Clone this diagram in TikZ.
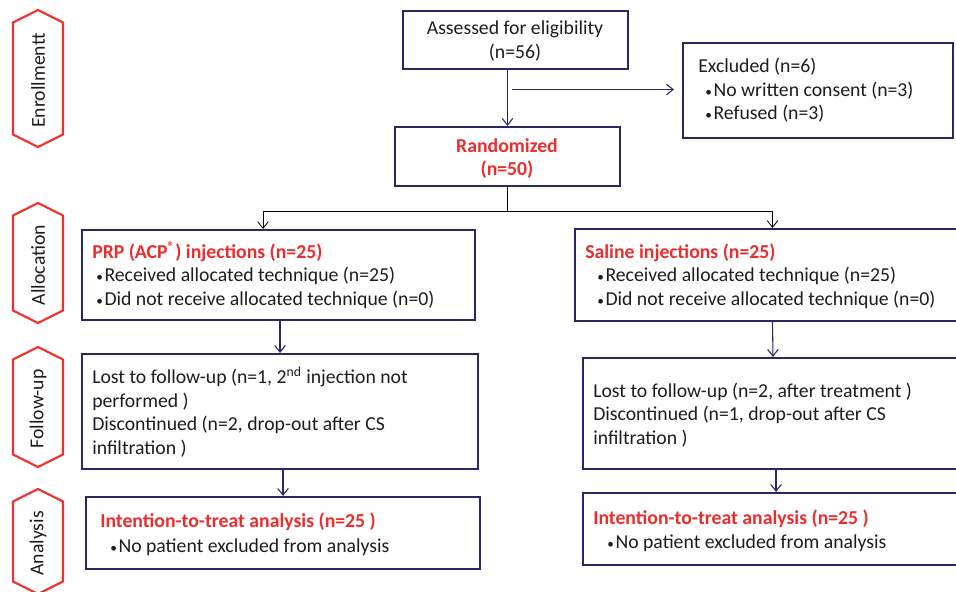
\documentclass[tikz,border=0pt]{standalone}
\usepackage{fontspec}
\setmainfont{Carlito}
\usetikzlibrary{arrows.meta,fit,calc}
\definecolor{navy}{RGB}{40,40,105}
\definecolor{hred}{RGB}{238,50,45}
\definecolor{tred}{RGB}{236,45,45}
\definecolor{tgray}{RGB}{30,28,30}
\newcommand\hexlab[4]{%
  \draw[hexs] (38,#1) -- (63,{#1+12.5}) -- (63,{#2-12.5}) -- (38,#2) -- (13,{#2-12.5}) -- (13,{#1+12.5}) -- cycle;
  \node[lab,rotate=90] (#4) at (38,{(#1+#2)/2+2}) {#3};}
\newcommand\boxfit[5]{\node[box,fit={(#2,#3) (#4,#5)}] (#1) {};}
\newcommand\bul{{\fontsize{10}{10}\selectfont•}\hspace{1.2pt}}
\begin{document}
\begin{tikzpicture}[x=0.75pt,y=-0.75pt,
  box/.style={draw=navy,line width=1.6pt,inner sep=0pt},
  txt/.style={font=\fontsize{14.8}{17}\selectfont,text=tgray,inner sep=0pt,anchor=base west},
  ttl/.style={txt,font=\fontsize{14.8}{17}\selectfont\bfseries,text=tred},
  lab/.style={font=\fontsize{14.8}{17}\selectfont,text=tgray,inner sep=0pt},
  hexs/.style={draw=hred,line width=1.6pt,line join=miter},
  conn/.style={draw=navy,line width=0.8pt,-{Straight Barb[length=5pt,width=8pt]}},
  bconn/.style={draw=black,line width=0.6pt,-{Straight Barb[length=5pt,width=8pt]}},
  bline/.style={draw=black,line width=0.6pt}]
\useasboundingbox (0,0) rectangle (956,592);
\clip (0,0) rectangle (956,592);
% side labels
\hexlab{10}{147}{Enrollmentt}{henr}
\hexlab{203}{323}{Allocation}{halloc}
\hexlab{347}{467}{Follow-up}{hfollow}
\hexlab{489}{594}{Analysis}{hanal}
% boxes
\boxfit{assess}{403}{11}{628}{69}
\boxfit{rand}{395}{127}{620}{186}
\boxfit{excl}{683}{43}{953}{138}
\boxfit{prpA}{82}{230}{475}{320}
\boxfit{salA}{575}{229}{970}{321}
\boxfit{prpF}{82}{354}{478}{469}
\boxfit{salF}{583}{358}{969}{469}
\boxfit{prpT}{86}{497}{480}{569}
\boxfit{salT}{583}{493}{969}{565}
% texts
\node[txt,anchor=base] (a1) at (515,35) {Assessed for eligibility};
\node[txt,anchor=base] (a2) at (515,59) {(n=56)};
\node[ttl,anchor=base] (r1) at (507,152) {Randomized};
\node[ttl,anchor=base] (r2) at (507,175) {(n=50)};
\node[txt] (e1) at (698,73) {Excluded (n=6)};
\node[txt] (e2) at (705,96) {\bul No written consent (n=3)};
\node[txt] (e3) at (705,119) {\bul Refused (n=3)};
\node[ttl] (pa1) at (92,258) {PRP (ACP\textsuperscript{\textregistered}) injections (n=25)};
\node[txt] (pa2) at (96,281) {\bul Received allocated technique (n=25)};
\node[txt] (pa3) at (96,305) {\bul Did not receive allocated technique (n=0)};
\node[ttl] (sa1) at (585,258) {Saline injections (n=25)};
\node[txt] (sa2) at (597,281) {\bul Received allocated technique (n=25)};
\node[txt] (sa3) at (597,305) {\bul Did not receive allocated technique (n=0)};
\node[txt] (pf1) at (92,383) {Lost to follow-up (n=1, 2\textsuperscript{nd} injection not};
\node[txt] (pf2) at (92,407) {performed )};
\node[txt] (pf3) at (92,430) {Discontinued (n=2, drop-out after CS};
\node[txt] (pf4) at (92,454) {infiltration )};
\node[txt] (sf1) at (593,397) {Lost to follow-up (n=2, after treatment )};
\node[txt] (sf2) at (593,420) {Discontinued (n=1, drop-out after CS};
\node[txt] (sf3) at (593,444) {infiltration )};
\node[ttl] (pt1) at (100,527) {Intention-to-treat analysis (n=25 )};
\node[txt] (pt2) at (110,552) {\bul No patient excluded from analysis};
\node[ttl] (st1) at (593,524) {Intention-to-treat analysis (n=25 )};
\node[txt] (st2) at (607,548) {\bul No patient excluded from analysis};
% connectors
\draw[conn] (assess.south -| rand.north) -- (rand.north);
\coordinate (exs) at ($(rand.north |- excl.west)+(4,-1)$);
\coordinate (exe) at ($(excl.west)+(-8,-1)$);
\draw[conn] (exs) -- (exe);
\coordinate (split) at ($(rand.south)+(0,24)$);
\coordinate (pin) at ($(prpA.north)+(-15.5,0)$);
\draw[bline] (rand.south) -- (split);
\draw[bconn] (split) -| (pin);
\draw[bconn] (split) -| (salA.north);
\draw[conn] ($(prpA.south)+(1.5,0)$) -- ($(prpF.north)+(0,0)$);
\draw[conn] ($(prpF.south)+(3,0)$) -- (prpT.north);
\draw[conn] (salA.south) -- ($(salF.north)+(-3,0)$);
\draw[conn] (salF.south) -- (salT.north);
\end{tikzpicture}
\end{document}
